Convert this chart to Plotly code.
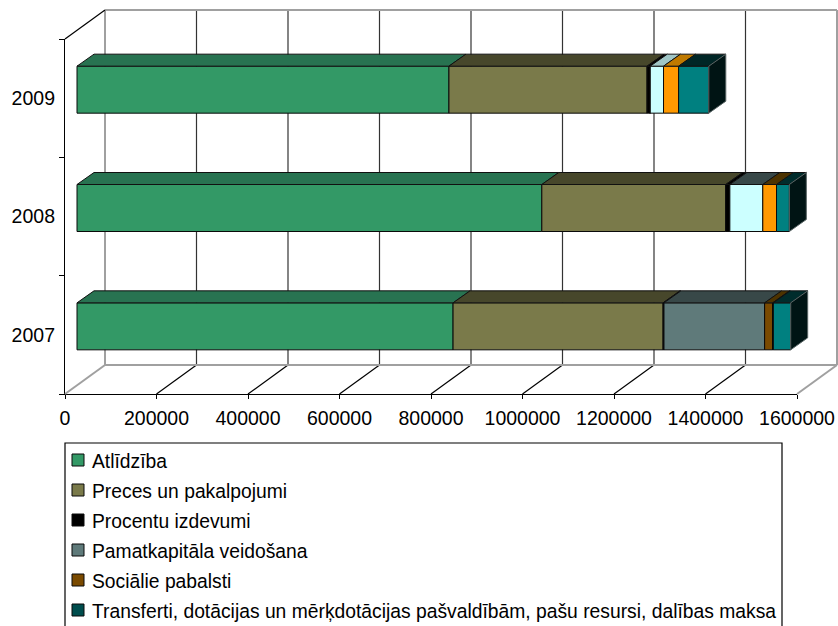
import numpy as np
import plotly.graph_objects as go

# ---- data -------------------------------------------------------------
years = ["2007", "2008", "2009"]
axis_ticks = [0, 200000, 400000, 600000, 800000, 1000000, 1200000, 1400000, 1600000]

atlidziba = [822000, 1016000, 813000]
preces = [459000, 402000, 433000]
procentu = [2000, 9000, 7000]
pamatkapitala = [220000, 0, 0]
socialie = [17500, 0, 0]
transferti = [1500, 0, 0]
unnamed_a = [0, 72000, 29000]
unnamed_b = [0, 30000, 33000]
unnamed_c = [38000, 28000, 66000]

names = ["Atlīdzība", "Preces un pakalpojumi", "Procentu izdevumi", "Pamatkapitāla veidošana",
         "Sociālie pabalsti",
         "Transferti, dotācijas un mērķdotācijas pašvaldībām, pašu resursi, dalības maksa",
         None, None, None]
series = [atlidziba, preces, procentu, pamatkapitala, socialie, transferti, unnamed_a, unnamed_b, unnamed_c]

# ---- styles -------------------------------------------------------------
front = ["#339966", "#7A7A4A", "#000000", "#5F7A7A", "#7A4A00", "#004D4D", "#CCFFFF", "#FF9900", "#008080"]
top_2009 = ["#287351", "#47472B", "#000000", "#384848", "#4D3300", "#002C2C", "#A0C6C6", "#C07A00", "#002626"]
top_other = ["#287351", "#47472B", "#000000", "#384848", "#4D3300", "#002C2C", "#384848", "#4D3300", "#002C2C"]
tops = [top_other, top_other, top_2009]

W, H = 838, 626
L, R, T, B = 65, 797, 39, 394           # pixel box of the front axes
XMAX = axis_ticks[-1]
PX = XMAX / (R - L)                      # value units per pixel
PY = 3 / (B - T)                         # category units per pixel
BAR_H = 47 * PY
FRONT_DX, FRONT_DY = 12 * PX, 8.5 * PY   # front face of bars vs. axes
DEPTH_DX, DEPTH_DY = 17 * PX, 12 * PY    # depth of the bars
WALL_DX, WALL_DY = 40 * PX, 29 * PY      # back wall vs. axes
YLO, YHI = -0.5, 2.5
FULL_X = [-L * PX, (W - L) * PX]
FULL_Y = [YLO + (B - H) * PY, YLO + B * PY]

fig = go.Figure()

# empty trace so the native axes exist
fig.add_trace(go.Scatter(x=[0], y=[0], mode="markers", marker=dict(opacity=0), showlegend=False,
                         hoverinfo="skip", xaxis="x", yaxis="y"))


def line(xs, ys, color, width):
    fig.add_trace(go.Scatter(x=xs, y=ys, mode="lines", line=dict(color=color, width=width),
                             showlegend=False, hoverinfo="skip", xaxis="x2", yaxis="y2"))


# ---- walls and floor ----------------------------------------------------
for t in axis_ticks[1:-1]:
    line([t + WALL_DX, t + WALL_DX], [YLO + WALL_DY, YHI + WALL_DY], "#333333", 1.2)
    line([t, t + WALL_DX], [YLO, YLO + WALL_DY], "#000000", 1.2)
GREY = "#A0A0A0"
line([WALL_DX, WALL_DX], [YLO + WALL_DY, YHI + WALL_DY], GREY, 2)
line([XMAX + WALL_DX, XMAX + WALL_DX], [YLO + WALL_DY, YHI + WALL_DY], GREY, 2)
line([WALL_DX, XMAX + WALL_DX], [YHI + WALL_DY, YHI + WALL_DY], GREY, 2)
line([WALL_DX, XMAX + WALL_DX], [YLO + WALL_DY, YLO + WALL_DY], GREY, 2)
line([0, WALL_DX], [YLO, YLO + WALL_DY], GREY, 2)
line([XMAX, XMAX + WALL_DX], [YLO, YLO + WALL_DY], GREY, 2)
line([0, WALL_DX], [YHI, YHI + WALL_DY], "#000000", 1.2)

# ---- bars -----------------------------------------------------------------
cats = np.arange(len(years))
values = np.array(series, dtype=float)
starts = np.vstack([np.zeros(len(years)), np.cumsum(values, axis=0)[:-1]])

for k, (nm, vals) in enumerate(zip(names, series)):
    fig.add_trace(go.Bar(
        x=vals, base=starts[k] + FRONT_DX, y=cats + FRONT_DY, width=BAR_H, orientation="h",
        name=nm or "", showlegend=False,
        marker=dict(color=front[k], line=dict(color="#0A0A0A", width=1)),
        xaxis="x3", yaxis="y3", hoverinfo="skip"))

# top faces
for k, vals in enumerate(series):
    for c in cats:
        if vals[c] <= 0:
            continue
        x0 = starts[k][c] + FRONT_DX
        x1 = x0 + vals[c]
        ytop = c + FRONT_DY + BAR_H / 2
        fig.add_trace(go.Scatter(
            x=[x0, x1, x1 + DEPTH_DX, x0 + DEPTH_DX, x0],
            y=[ytop, ytop, ytop + DEPTH_DY, ytop + DEPTH_DY, ytop],
            mode="lines", fill="toself", fillcolor=tops[c][k],
            line=dict(color="#111111", width=1), showlegend=False, hoverinfo="skip",
            xaxis="x3", yaxis="y3"))

# right end faces
ends = values.sum(axis=0) + FRONT_DX
for c in cats:
    y0 = c + FRONT_DY - BAR_H / 2
    y1 = c + FRONT_DY + BAR_H / 2
    xe = ends[c]
    fig.add_trace(go.Scatter(
        x=[xe, xe + DEPTH_DX, xe + DEPTH_DX, xe, xe],
        y=[y0, y0 + DEPTH_DY, y1 + DEPTH_DY, y1, y0],
        mode="lines", fill="toself", fillcolor="#001414",
        line=dict(color="#5A6666", width=1), showlegend=False, hoverinfo="skip",
        xaxis="x3", yaxis="y3"))

# ---- legend box (runs off the bottom edge, as in the reference) -------------
FONT = "Liberation Sans"
shapes = [dict(type="rect", xref="paper", yref="paper",
               x0=L / W, x1=782 / W, y0=-0.1, y1=1 - 443 / H,
               line=dict(color="black", width=1.2), fillcolor="rgba(0,0,0,0)")]
annotations = []
for i, nm in enumerate(n for n in names if n):
    yc = 460 + 30 * i
    shapes.append(dict(type="rect", xref="paper", yref="paper",
                       x0=72 / W, x1=84 / W, y0=1 - (yc + 6) / H, y1=1 - (yc - 6) / H,
                       line=dict(color="#0A0A0A", width=1), fillcolor=front[i]))
    annotations.append(dict(xref="paper", yref="paper", x=90 / W, y=1 - (yc + 1) / H,
                            xanchor="left", yanchor="middle", showarrow=False, align="left",
                            text=nm, font=dict(family=FONT, size=19.3, color="black")))

# ---- layout -----------------------------------------------------------------
hidden = dict(visible=False, domain=[0, 1], automargin=False)
fig.update_layout(
    width=W, height=H, autosize=False, showlegend=False,
    margin=dict(l=0, r=0, t=0, b=0, pad=0),
    paper_bgcolor="white", plot_bgcolor="rgba(0,0,0,0)",
    font=dict(family=FONT, size=19.5, color="black"),
    barmode="overlay",
    xaxis=dict(domain=[L / W, R / W], range=[0, XMAX], tickmode="array", tickvals=axis_ticks,
               ticktext=[str(t) for t in axis_ticks], ticks="outside", ticklen=4, tickcolor="black",
               showgrid=False, zeroline=False, showline=True, linecolor="black", linewidth=1.2,
               tickangle=0, ticklabelstandoff=2, anchor="y", automargin=False),
    yaxis=dict(domain=[1 - B / H, 1 - T / H], range=[YLO, YHI], tickmode="array",
               tickvals=cats.tolist(), ticktext=years, ticks="", anchor="x", automargin=False,
               showgrid=False, zeroline=False, showline=True, linecolor="black", linewidth=1.2,
               ticklabelstandoff=5,
               minor=dict(tickmode="array", tickvals=[-0.5, 0.5, 1.5, 2.5], ticks="outside",
                          ticklen=5, tickcolor="black", showgrid=False)),
    xaxis2=dict(range=FULL_X, anchor="y2", **hidden),
    yaxis2=dict(range=FULL_Y, anchor="x2", **hidden),
    xaxis3=dict(range=FULL_X, anchor="y3", **hidden),
    yaxis3=dict(range=FULL_Y, anchor="x3", **hidden),
    shapes=shapes, annotations=annotations,
)

fig.write_html("out.html", config={"displayModeBar": False},
               post_script="document.body.style.margin='0';")
